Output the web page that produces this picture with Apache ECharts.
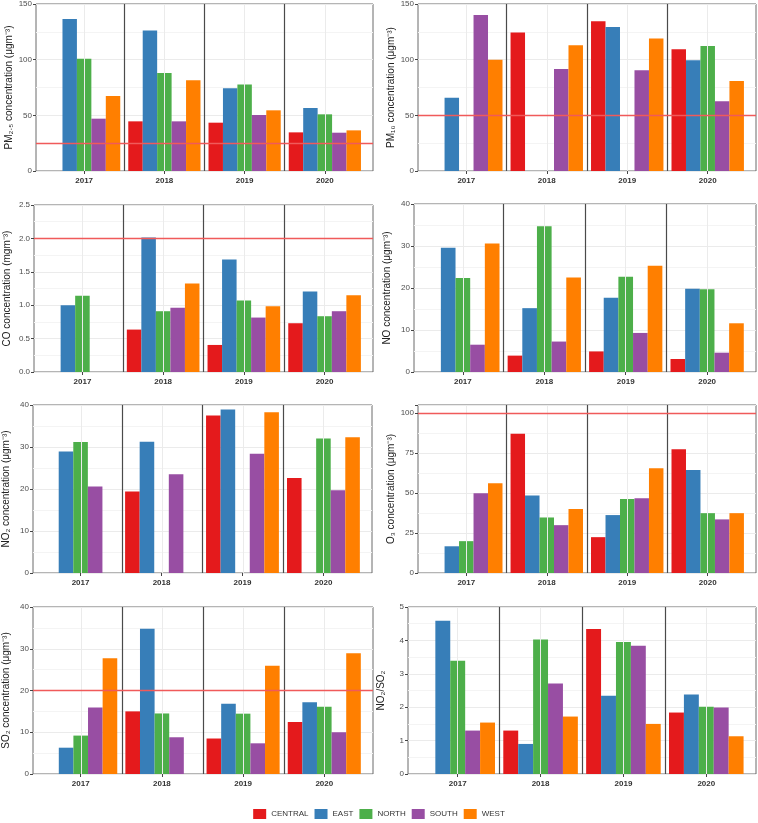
<!DOCTYPE html>
<html>
<head>
<meta charset="utf-8">
<script src="https://cdn.jsdelivr.net/npm/echarts@6/dist/echarts.min.js"></script>
<style>html,body{margin:0;padding:0;background:#fff}#c{width:758px;height:823px}</style>
</head>
<body>
<div id="c"></div>
<script>
const years = ['2017', '2018', '2019', '2020'];
const regions = ['CENTRAL', 'EAST', 'NORTH', 'SOUTH', 'WEST'];
const regionColors = ['#E41A1C', '#377EB8', '#4DAF4A', '#984EA3', '#FF7F00'];

// rows: CENTRAL, EAST, NORTH, SOUTH, WEST ; columns: 2017..2020
const pm25 = [
  [null, 44.6, 43.4, 34.7],
  [136.5, 126.3, 74.3, 56.6],
  [100.9, 88.0, 77.8, 50.9],
  [47.0, 44.6, 50.3, 34.4],
  [67.4, 81.4, 54.5, 36.5]
];
const pm10 = [
  [null, 124.3, 134.4, 109.3],
  [65.9, null, 129.3, 99.4],
  [null, null, null, 112.3],
  [140.1, 91.6, 90.4, 62.6],
  [100.0, 112.9, 118.9, 80.8]
];
const co = [
  [null, 0.635, 0.405, 0.73],
  [1.0, 2.015, 1.685, 1.205],
  [1.14, 0.91, 1.07, 0.835],
  [null, 0.96, 0.815, 0.91],
  [null, 1.325, 0.985, 1.15]
];
const no = [
  [null, 3.9, 4.9, 3.1],
  [29.6, 15.2, 17.7, 19.8],
  [22.4, 34.7, 22.7, 19.7],
  [6.5, 7.25, 9.3, 4.6],
  [30.6, 22.5, 25.3, 11.6]
];
const no2 = [
  [null, 19.4, 37.5, 22.6],
  [28.9, 31.25, 38.9, null],
  [31.2, null, null, 32.0],
  [20.6, 23.5, 28.4, 19.7],
  [null, null, 38.25, 32.3]
];
const o3 = [
  [null, 87.0, 22.4, 77.4],
  [16.7, 48.5, 36.2, 64.4],
  [19.9, 34.7, 46.2, 37.4],
  [49.8, 29.9, 46.7, 33.5],
  [56.1, 40.0, 65.5, 37.4]
];
const so2 = [
  [null, 15.0, 8.5, 12.45],
  [6.3, 34.8, 16.8, 17.2],
  [9.2, 14.5, 14.45, 16.1],
  [15.9, 8.8, 7.35, 10.0],
  [27.7, null, 25.9, 28.9]
];
const ratio = [
  [null, 1.30, 4.34, 1.84],
  [4.59, 0.90, 2.34, 2.38],
  [3.39, 4.03, 3.95, 2.01],
  [1.30, 2.71, 3.84, 1.99],
  [1.54, 1.72, 1.50, 1.13]
];

// axis settings and guideline values per panel
const yTitles = ['PM₂.₅ concentration (μgm⁻³)', 'PM₁₀ concentration (μgm⁻³)', 'CO concentration (mgm⁻³)', 'NO concentration (μgm⁻³)',
  'NO₂ concentration (μgm⁻³)', 'O₃ concentration (μgm⁻³)', 'SO₂ concentration (μgm⁻³)', 'NO₂/SO₂'];
const yMax = [150, 150, 2.5, 40, 40, 105, 40, 5];
const yStep = [50, 50, 0.5, 10, 10, 25, 10, 1];
const limits = [25, 50, 2, null, null, 100, 20, null];
const panelData = [pm25, pm10, co, no, no2, o3, so2, ratio];

// layout (pixels): [left, top, right, bottom]
const boxes = [
  [36, 4, 373, 171], [418, 4, 756, 171],
  [34, 205, 373, 372], [414, 204, 756, 372],
  [32, 405, 372, 573], [418, 405, 756, 573],
  [32, 607, 373, 774], [408, 607, 756, 774]
];

const FONT = 'Liberation Sans, Arial, sans-serif';
const grids = [], xAxes = [], yAxes = [], series = [];

panelData.forEach((data, i) => {
  const [x0, y0, x1, y1] = boxes[i];
  const W = x1 - x0, H = y1 - y0;
  const oi = 2 * i, ii = 2 * i + 1;
  grids.push({left: x0, top: y0, width: W, height: H, show: true, borderColor: '#6a6a6a', borderWidth: 1, backgroundColor: 'transparent'});
  grids.push({left: x0 + W * 0.1 / 4.2, top: y0, width: W * 4 / 4.2, height: H});
  xAxes.push({type: 'value', gridIndex: oi, min: 0.4, max: 4.6, show: false});
  xAxes.push({
    type: 'category', gridIndex: ii, data: years,
    axisLine: {show: false},
    axisTick: {show: true, alignWithLabel: true, length: 3, lineStyle: {color: '#444'}},
    axisLabel: {fontSize: 8, fontWeight: 'bold', color: '#333', margin: 6, fontFamily: FONT},
    splitLine: {show: false}
  });
  const step = yStep[i];
  yAxes.push({
    type: 'value', gridIndex: oi, min: 0, max: yMax[i], interval: step,
    axisLine: {show: false},
    axisTick: {show: true, length: 3, lineStyle: {color: '#444'}},
    minorTick: {show: false, splitNumber: 2},
    axisLabel: {
      fontSize: 8, color: '#4d4d4d', margin: 4, fontFamily: FONT,
      formatter: v => {
        const k = Math.round(v / step * 1000) / 1000;
        if (Math.abs(k - Math.round(k)) > 1e-6) return '';
        return step < 1 ? v.toFixed(1) : String(Math.round(v));
      }
    },
    splitLine: {show: true, lineStyle: {color: '#ebebeb', width: 1}},
    minorSplitLine: {show: true, lineStyle: {color: '#f4f4f4', width: 1}},
    name: yTitles[i], nameLocation: 'middle', nameGap: 22,
    nameTextStyle: {fontSize: 10, color: '#222', fontFamily: FONT}
  });
  yAxes.push({type: 'value', gridIndex: ii, min: 0, max: yMax[i], show: false});

  // vertical grid lines at year centres (behind bars)
  series.push({
    type: 'line', xAxisIndex: oi, yAxisIndex: oi, data: [], z: 1, silent: true,
    markLine: {
      silent: true, symbol: 'none', animation: false, label: {show: false},
      lineStyle: {color: '#ebebeb', width: 1, type: 'solid'},
      data: [1, 2, 3, 4].map(v => ({xAxis: v}))
    }
  });

  regions.forEach((r, k) => {
    series.push({
      type: 'bar', name: r, xAxisIndex: ii, yAxisIndex: ii,
      data: data[k], barGap: 0, barCategoryGap: '10%',
      itemStyle: {color: regionColors[k]}, z: 3, animation: false
    });
  });

  // year separators (on top)
  series.push({
    type: 'line', xAxisIndex: oi, yAxisIndex: oi, data: [], z: 5, silent: true,
    markLine: {
      silent: true, symbol: 'none', animation: false, label: {show: false},
      lineStyle: {color: '#4a4a4a', width: 1.2, type: 'solid', opacity: 1},
      data: [1.5, 2.5, 3.5].map(v => ({xAxis: v}))
    }
  });
  // guideline (limit) line across the whole panel
  if (limits[i] !== null) {
    series.push({
      type: 'line', xAxisIndex: oi, yAxisIndex: oi, data: [], z: 6, silent: true,
      color: '#f05a5a',
      markLine: {
        silent: true, symbol: 'none', animation: false, label: {show: false},
        emphasis: {disabled: true},
        lineStyle: {color: '#f05a5a', width: 1.4, type: 'solid', opacity: 1},
        data: [{yAxis: limits[i]}]
      }
    });
  }
});

const chart = echarts.init(document.getElementById('c'), null, {renderer: 'canvas'});
chart.setOption({
  animation: false,
  backgroundColor: '#fff',
  textStyle: {fontFamily: FONT},
  grid: grids, xAxis: xAxes, yAxis: yAxes, series: series,
  legend: {
    data: regions, top: 804, left: 'center', icon: 'rect',
    itemWidth: 13, itemHeight: 10, itemGap: 6,
    textStyle: {fontSize: 8, color: '#333', fontFamily: FONT}
  }
});
</script>
</body>
</html>
